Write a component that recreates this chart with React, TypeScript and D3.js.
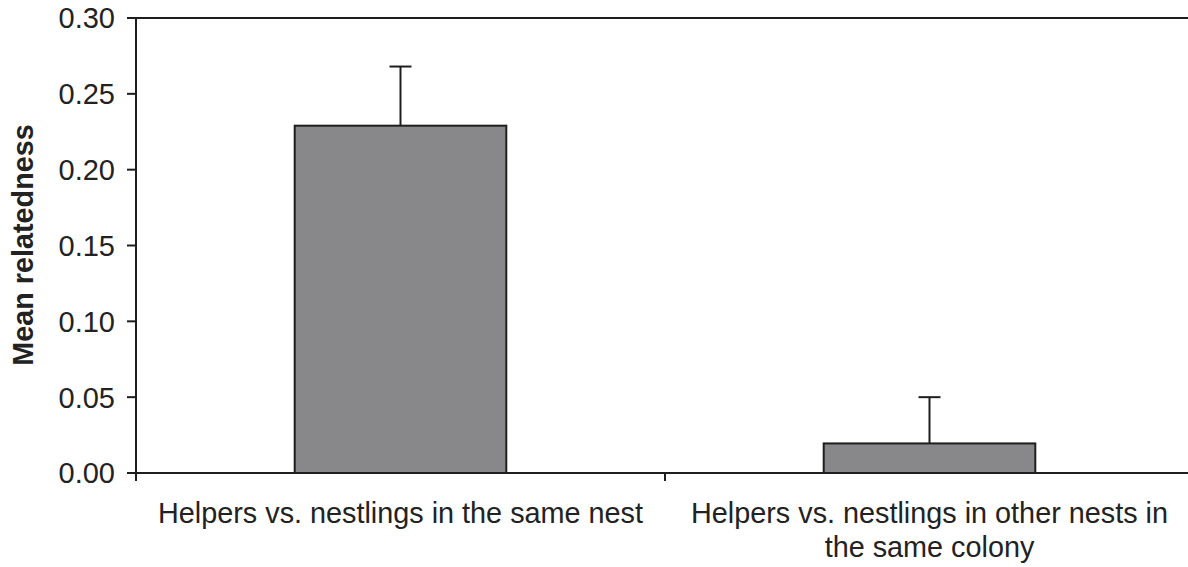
import React from "react";
import * as d3 from "d3";

const categories = [
  ["Helpers vs. nestlings in the same nest"],
  ["Helpers vs. nestlings in other nests in", "the same colony"],
];
const categoryKeys = ["same", "other"];
const means = [0.229, 0.0195];
const errors = [0.039, 0.0305];
const yTicks = [0, 0.05, 0.1, 0.15, 0.2, 0.25, 0.3];
const yLabel = "Mean relatedness";

const W = 1188;
const H = 567;
const FONT = "'Liberation Sans', Arial, Helvetica, sans-serif";

export default function App() {
  const left = 136;
  const right = 1194;
  const top = 18;
  const bottom = 473;
  const y = d3.scaleLinear().domain([0, 0.3]).range([bottom, top]);
  const x = d3.scaleBand<string>().domain(categoryKeys).range([left, right]).padding(0);
  const bw = x.bandwidth() * 0.4;
  const capW = 22;
  const stroke = "#1e1e1e";
  const boundaries = [left, ...categoryKeys.map((k) => (x(k) as number) + x.bandwidth())];

  return (
    <svg
      width={W}
      height={H}
      style={{ position: "absolute", left: 0, top: 0, background: "#fff" }}
      fontFamily={FONT}
    >
      {categoryKeys.map((k, i) => {
        const cx = (x(k) as number) + x.bandwidth() / 2;
        return (
          <g key={k}>
            <line x1={cx} x2={cx} y1={y(means[i])} y2={y(means[i] + errors[i])} stroke={stroke} strokeWidth={2} />
            <line x1={cx - capW / 2} x2={cx + capW / 2} y1={y(means[i] + errors[i])} y2={y(means[i] + errors[i])} stroke={stroke} strokeWidth={2} />
            <rect x={cx - bw / 2} y={y(means[i])} width={bw} height={y(0) - y(means[i])} fill="#88888a" stroke={stroke} strokeWidth={2} />
          </g>
        );
      })}
      <line x1={left} x2={W} y1={top} y2={top} stroke={stroke} strokeWidth={2} />
      <line x1={left} x2={left} y1={top - 1} y2={bottom + 8} stroke={stroke} strokeWidth={2} />
      {yTicks.map((t) => (
        <g key={t}>
          <line x1={left - 9} x2={left} y1={y(t)} y2={y(t)} stroke={stroke} strokeWidth={2} />
          <text x={115} y={y(t)} dy="0.36em" textAnchor="end" fontSize={29} fill="#222">
            {d3.format(".2f")(t)}
          </text>
        </g>
      ))}
      <line x1={left} x2={W} y1={bottom} y2={bottom} stroke={stroke} strokeWidth={2} />
      {boundaries.map((b, i) => (
        <line key={i} x1={b} x2={b} y1={bottom} y2={bottom + 8} stroke={stroke} strokeWidth={2} />
      ))}
      {categoryKeys.map((k, i) => {
        const cx = (x(k) as number) + x.bandwidth() / 2;
        return (
          <text key={k} x={cx} y={523} textAnchor="middle" fontSize={28.8} fill="#222">
            {categories[i].map((line, j) => (
              <tspan key={j} x={cx} dy={j === 0 ? 0 : 34}>
                {line}
              </tspan>
            ))}
          </text>
        );
      })}
      <text
        transform={`translate(33, 245) rotate(-90)`}
        textAnchor="middle"
        fontSize={28.8}
        fontWeight="bold"
        fill="#222"
      >
        {yLabel}
      </text>
    </svg>
  );
}
